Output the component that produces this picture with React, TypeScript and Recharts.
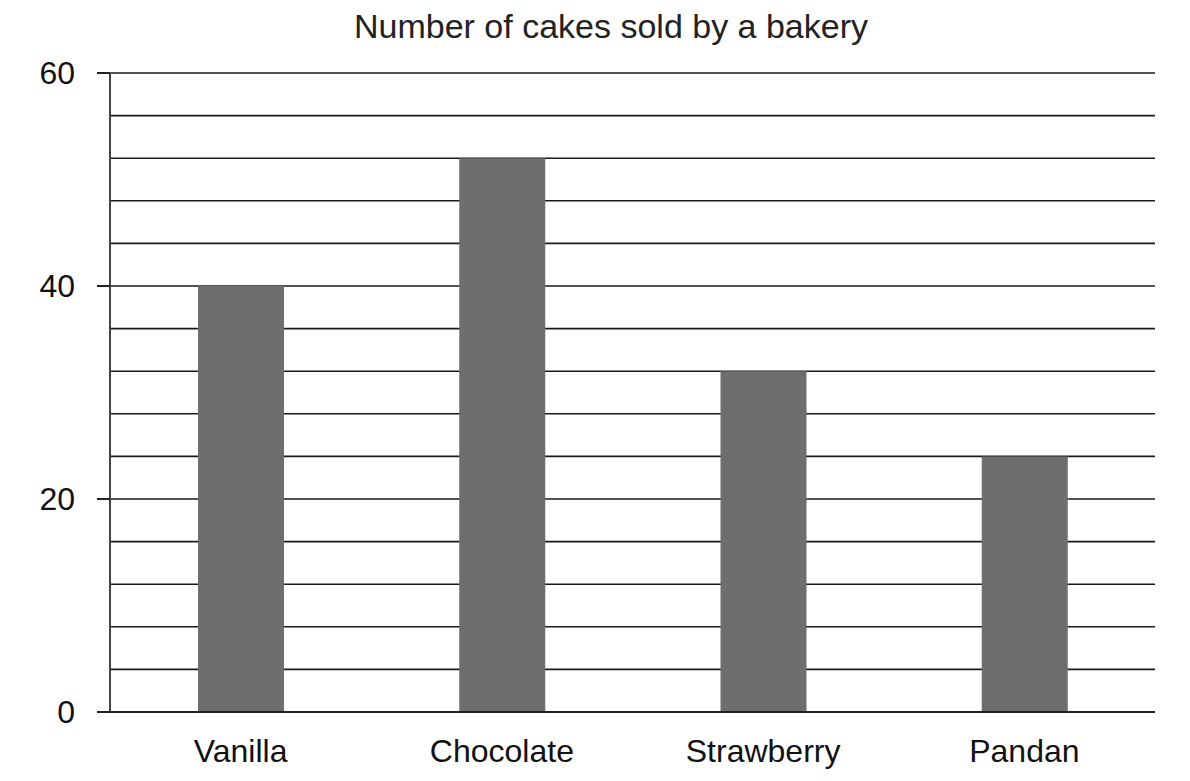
import React from "react";
import { BarChart, Bar, XAxis, YAxis, CartesianGrid } from "recharts";

const categories = ["Vanilla", "Chocolate", "Strawberry", "Pandan"];
const cakesSold = [40, 52, 32, 24];
const gridTicks = [0, 4, 8, 12, 16, 20, 24, 28, 32, 36, 40, 44, 48, 52, 56, 60];
const labelTicks = [0, 20, 40, 60];
const title = "Number of cakes sold by a bakery";

const data = categories.map((c, i) => ({ name: c, value: cakesSold[i] }));

const FONT = "'Liberation Sans', Arial, sans-serif";

const YTick = (props: any) => {
  const { x, y, payload } = props;
  if (!labelTicks.includes(payload.value)) return null;
  return (
    <g>
      <line x1={x - 13} y1={y} x2={x} y2={y} stroke="#222" strokeWidth={2} />
      <text
        x={x - 35}
        y={y}
        dy="0.355em"
        textAnchor="end"
        fontSize={32}
        fontFamily={FONT}
        fill="#111"
      >
        {payload.value}
      </text>
    </g>
  );
};

export default function App() {
  return (
    <div
      style={{
        position: "absolute",
        left: 0,
        top: 0,
        width: 1190,
        height: 781,
        background: "#fff",
        overflow: "hidden",
      }}
    >
      <div
        style={{
          position: "absolute",
          left: 0,
          top: 9,
          width: 1222,
          textAlign: "center",
          fontFamily: FONT,
          fontSize: 34,
          lineHeight: "34px",
          color: "#222",
          whiteSpace: "nowrap",
        }}
      >
        {title}
      </div>
      <div style={{ position: "absolute", left: 0, top: 0 }}>
        <BarChart
          width={1190}
          height={781}
          data={data}
          margin={{ top: 73, right: 35, bottom: 39, left: 0 }}
          barSize={86}
        >
          <CartesianGrid
            horizontal={true}
            vertical={false}
            stroke="#1a1a1a"
            strokeWidth={1.6}
          />
          <XAxis
            dataKey="name"
            height={30}
            tickLine={false}
            tickSize={0}
            tickMargin={27}
            axisLine={{ stroke: "#222", strokeWidth: 2 }}
            tick={{ fontSize: 32, fontFamily: FONT, fill: "#111" }}
            interval={0}
          />
          <YAxis
            width={110}
            domain={[0, 60]}
            ticks={gridTicks}
            interval={0}
            tickLine={false}
            tickSize={0}
            tickMargin={0}
            axisLine={{ stroke: "#444", strokeWidth: 2 }}
            tick={<YTick />}
          />
          <YAxis
            yAxisId="right"
            orientation="right"
            width={0}
            domain={[0, 60]}
            tick={false}
            tickLine={false}
            axisLine={{ stroke: "#444", strokeWidth: 2 }}
          />
          <Bar dataKey="value" fill="#6e6e6e" isAnimationActive={false} />
        </BarChart>
      </div>
    </div>
  );
}
